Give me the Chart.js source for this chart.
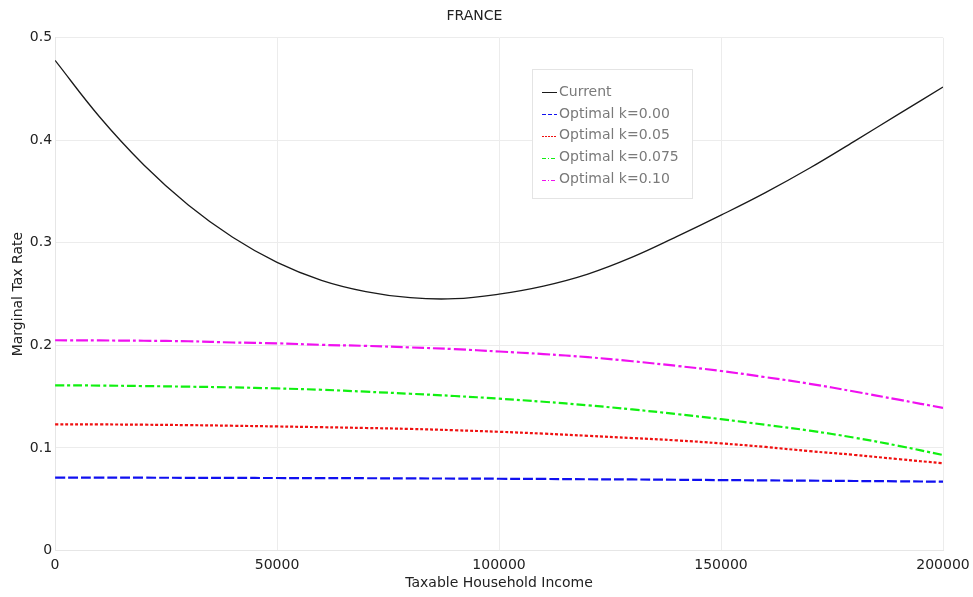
<!DOCTYPE html>
<html>
<head>
<meta charset="utf-8">
<script src="https://cdn.jsdelivr.net/npm/chart.js@4/dist/chart.umd.min.js"></script>
<style>
  html, body { margin: 0; padding: 0; background: #fff; }
  #wrap { width: 973px; height: 597px; position: relative; }
</style>
</head>
<body>
<div id="wrap"><canvas id="c" width="973" height="597"></canvas></div>
<script>
const chartTitle = "FRANCE";
const xTitle = "Taxable Household Income";
const yTitle = "Marginal Tax Rate";

const income = [0, 10000, 20000, 30000, 40000, 50000, 60000, 70000, 80000, 90000, 100000,
                110000, 120000, 130000, 140000, 150000, 160000, 170000, 180000, 190000, 200000];

const current = [0.478, 0.423, 0.376, 0.337, 0.3055, 0.281, 0.2635, 0.2525, 0.2465, 0.2455, 0.250,
                 0.2578, 0.2695, 0.286, 0.306, 0.327, 0.349, 0.373, 0.399, 0.4255, 0.452];
const optK000 = [0.0709, 0.0709, 0.0709, 0.0708, 0.0707, 0.0706, 0.0705, 0.0704, 0.0702, 0.0701, 0.0699,
                 0.0697, 0.0694, 0.0692, 0.0689, 0.0686, 0.0683, 0.0680, 0.0677, 0.0674, 0.0670];
const optK005 = [0.1230, 0.1229, 0.1226, 0.1222, 0.1216, 0.1209, 0.1202, 0.1194, 0.1185, 0.1172, 0.1157,
                 0.1139, 0.1118, 0.1096, 0.1073, 0.1044, 0.1009, 0.0968, 0.0932, 0.0890, 0.0850];
const optK0075 = [0.1610, 0.1608, 0.1603, 0.1597, 0.1590, 0.1580, 0.1567, 0.1548, 0.1528, 0.1506, 0.1480,
                  0.1450, 0.1415, 0.1375, 0.1330, 0.1280, 0.1225, 0.1168, 0.1100, 0.1020, 0.0930];
const optK010 = [0.2050, 0.2048, 0.2045, 0.2040, 0.2028, 0.2020, 0.2005, 0.1995, 0.1980, 0.1963, 0.1940,
                 0.1915, 0.1885, 0.1845, 0.1800, 0.1750, 0.1690, 0.1625, 0.1550, 0.1470, 0.1390];

const seriesLabels = ["Current", "Optimal k=0.00", "Optimal k=0.05", "Optimal k=0.075", "Optimal k=0.10"];
const xTicks = [0, 50000, 100000, 150000, 200000];
const yTicks = [0, 0.1, 0.2, 0.3, 0.4, 0.5];

function pts(vals) { return income.map((x, i) => ({ x: x, y: vals[i] })); }

const FONT = "'DejaVu Sans', Verdana, sans-serif";

const legendPlugin = {
  id: 'boxLegend',
  afterDraw(chart) {
    const ctx = chart.ctx;
    const x0 = 532, y0 = 69, w = 160, h = 129;
    ctx.save();
    ctx.fillStyle = '#ffffff';
    ctx.fillRect(x0, y0, w, h);
    ctx.strokeStyle = '#e4e4e4';
    ctx.lineWidth = 1;
    ctx.strokeRect(x0 + 0.5, y0 + 0.5, w, h);
    ctx.font = '14px ' + FONT;
    ctx.textBaseline = 'middle';
    ctx.textAlign = 'left';
    chart.data.datasets.forEach((ds, i) => {
      const cy = y0 + 23 + i * 21.9;
      ctx.strokeStyle = ds.borderColor;
      ctx.lineWidth = 1;
      ctx.setLineDash(ds.legendDash || []);
      ctx.beginPath();
      ctx.moveTo(542, Math.round(cy) + 0.5);
      ctx.lineTo(557, Math.round(cy) + 0.5);
      ctx.stroke();
      ctx.setLineDash([]);
      ctx.fillStyle = '#7a7a7a';
      ctx.fillText(ds.label, 559, cy);
    });
    ctx.restore();
  }
};

new Chart(document.getElementById('c'), {
  type: 'line',
  data: {
    datasets: [
      { label: seriesLabels[0], data: pts(current), borderColor: '#1a1a1a', borderWidth: 1.3, borderDash: [], legendDash: [] },
      { label: seriesLabels[1], data: pts(optK000), borderColor: '#1010f0', borderWidth: 2.2, borderDash: [10, 3], legendDash: [4, 2] },
      { label: seriesLabels[2], data: pts(optK005), borderColor: '#f01010', borderWidth: 2.2, borderDash: [3, 2], legendDash: [2, 1] },
      { label: seriesLabels[3], data: pts(optK0075), borderColor: '#10f010', borderWidth: 2.2, borderDash: [9, 3, 3, 3], legendDash: [4, 2, 1, 2] },
      { label: seriesLabels[4], data: pts(optK010), borderColor: '#f010f0', borderWidth: 2.2, borderDash: [12, 3, 3, 3], legendDash: [4, 2, 1, 2] }
    ]
  },
  options: {
    responsive: false,
    animation: false,
    elements: { point: { radius: 0 }, line: { tension: 0.4, fill: false } },
    layout: { padding: { left: 6, right: 30, top: 0, bottom: 5 } },
    plugins: {
      legend: { display: false },
      tooltip: { enabled: false },
      title: {
        display: true, text: chartTitle, color: '#222',
        font: { family: FONT, size: 14, weight: 'normal' },
        padding: { top: 8, bottom: 13 }
      }
    },
    scales: {
      x: {
        type: 'linear', min: 0, max: 200000,
        afterBuildTicks(axis) { axis.ticks = xTicks.map(v => ({ value: v })); },
        afterFit(axis) { axis.paddingRight = 0; axis.paddingLeft = 0; },
        grid: { color: '#ececec', drawTicks: false },
        border: { color: '#e6e6e6' },
        ticks: { color: '#222', font: { family: FONT, size: 14 }, padding: 7, maxRotation: 0,
                 callback: v => String(v) },
        title: { display: true, text: xTitle, color: '#222', font: { family: FONT, size: 14 }, padding: { top: -6, bottom: 0 } }
      },
      y: {
        type: 'linear', min: 0, max: 0.5,
        afterBuildTicks(axis) { axis.ticks = yTicks.map(v => ({ value: v })); },
        grid: { color: '#ececec', drawTicks: false },
        border: { color: '#e6e6e6' },
        ticks: { color: '#222', font: { family: FONT, size: 14 }, padding: 3,
                 callback: v => String(Number(v.toFixed(1))) },
        title: { display: true, text: yTitle, color: '#222', font: { family: FONT, size: 14 }, padding: { top: 4, bottom: 0 } }
      }
    }
  },
  plugins: [legendPlugin]
});
</script>
</body>
</html>
